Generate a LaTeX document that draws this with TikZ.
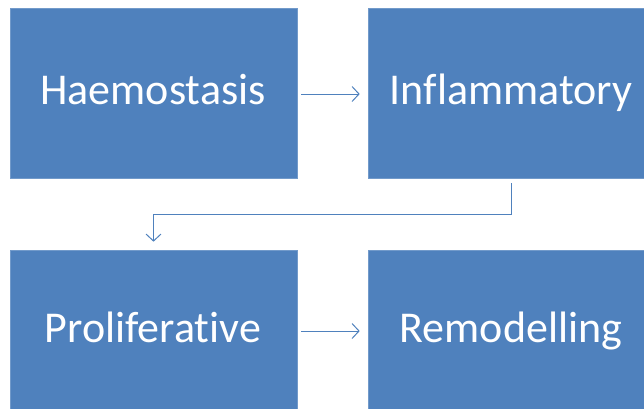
\documentclass[tikz,border=0pt]{standalone}
\usepackage{fontspec}
\setmainfont{Carlito}[Ligatures={NoCommon}]
\usetikzlibrary{arrows.meta}
\definecolor{officeblue}{HTML}{4F81BD}
\begin{document}
\begin{tikzpicture}[x=1pt,y=1pt,
  stagebox/.style={fill=officeblue,draw=officeblue!80!white,line width=0.6pt,minimum width=287pt,minimum height=170pt,inner sep=0pt},
  stagetext/.style={text=white,inner sep=0pt,anchor=base,font=\fontsize{44}{50}\selectfont},
  flowarrow/.style={draw=officeblue,line width=1pt,-{Straight Barb[length=7pt,width=15pt,line width=1pt]}}]
\useasboundingbox (0,0) rectangle (644,-408);
\clip (0,0) rectangle (644,-408);
\node[stagebox] (haem) at (153.5,-93) {};
\node[stagebox] (infl) at (511.5,-93) {};
\node[stagebox] (prol) at (153.5,-335) {};
\node[stagebox] (remo) at (511.5,-335) {};
\node[stagetext] (haemt) at (153,-104) {Haemostasis};
\node[stagetext] (inflt) at (511,-104) {Inflammatory};
\node[stagetext] (prolt) at (153,-342) {Proliferative};
\node[stagetext] (remot) at (511,-342) {Remodelling};
\draw[flowarrow] ([xshift=4pt]haem.east |- 0,-94) -- ([xshift=-8pt]infl.west |- 0,-94);
\draw[flowarrow] ([xshift=4pt]prol.east |- 0,-331) -- ([xshift=-8pt]remo.west |- 0,-331);
\draw[flowarrow] ([yshift=-5pt]infl.south) -- ++(0,-31) -| ([yshift=8pt]prol.north);
\end{tikzpicture}
\end{document}
